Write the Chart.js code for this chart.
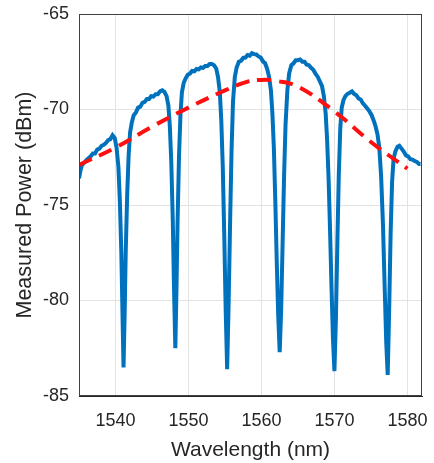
<!DOCTYPE html>
<html>
<head>
<meta charset="utf-8">
<script src="https://cdn.jsdelivr.net/npm/chart.js@4/dist/chart.umd.min.js"></script>
<style>
  html, body { margin: 0; padding: 0; background: #fff; }
  #wrap { width: 434px; height: 463px; }
</style>
</head>
<body>
<div id="wrap"><canvas id="chart" width="434" height="463"></canvas></div>
<script>
// measured spectrum (nm, dBm)
const wavelengthNm = [
  1535.0, 1535.2, 1535.4, 1535.7, 1536.0, 1536.3, 1536.6, 1536.9, 1537.2, 1537.5,
  1537.8, 1538.1, 1538.4, 1538.7, 1539.0, 1539.3, 1539.6, 1539.9, 1540.15, 1540.4,
  1540.6, 1540.8, 1540.95, 1541.1, 1541.25, 1541.4, 1541.6, 1541.8, 1542.0, 1542.25,
  1542.5, 1542.8, 1543.1, 1543.4, 1543.7, 1544.0, 1544.3, 1544.6, 1544.9, 1545.2,
  1545.5, 1545.8, 1546.1, 1546.4, 1546.7, 1547.0, 1547.25, 1547.45, 1547.65, 1547.85,
  1548.0, 1548.2, 1548.35, 1548.5, 1548.7, 1548.9, 1549.1, 1549.35, 1549.6, 1549.9,
  1550.2, 1550.5, 1550.8, 1551.1, 1551.4, 1551.7, 1552.0, 1552.3, 1552.6, 1552.9,
  1553.2, 1553.5, 1553.8, 1554.05, 1554.3, 1554.5, 1554.7, 1554.9, 1555.1, 1555.3,
  1555.5, 1555.7, 1555.9, 1556.1, 1556.35, 1556.6, 1556.9, 1557.2, 1557.5, 1557.8,
  1558.1, 1558.4, 1558.7, 1559.0, 1559.3, 1559.6, 1559.9, 1560.2, 1560.5, 1560.8,
  1561.05, 1561.3, 1561.5, 1561.7, 1561.9, 1562.1, 1562.3, 1562.5, 1562.7, 1562.9,
  1563.1, 1563.3, 1563.55, 1563.8, 1564.1, 1564.4, 1564.7, 1565.0, 1565.3, 1565.6,
  1565.9, 1566.2, 1566.5, 1566.8, 1567.1, 1567.4, 1567.7, 1568.0, 1568.3, 1568.55,
  1568.8, 1569.0, 1569.2, 1569.4, 1569.6, 1569.8, 1570.0, 1570.2, 1570.4, 1570.6,
  1570.8, 1571.0, 1571.25, 1571.5, 1571.8, 1572.1, 1572.4, 1572.7, 1573.0, 1573.3,
  1573.6, 1573.9, 1574.2, 1574.5, 1574.8, 1575.1, 1575.4, 1575.65, 1575.9, 1576.15,
  1576.4, 1576.65, 1576.9, 1577.1, 1577.3, 1577.5, 1577.7, 1577.9, 1578.1, 1578.35,
  1578.65, 1578.9, 1579.2, 1579.5, 1579.8, 1580.1, 1580.4, 1580.7, 1581.0, 1581.3,
  1581.6, 1581.8
];
const powerDbm = [
  -73.6, -73.2, -72.9, -72.8, -72.65, -72.55, -72.45, -72.3, -72.3, -72.1,
  -72.05, -71.9, -71.85, -71.75, -71.6, -71.55, -71.35, -71.5, -72.0, -73.0,
  -74.8, -77.5, -80.5, -83.5, -80.8, -77.5, -74.5, -72.4, -71.2, -70.65,
  -70.3, -70.15, -69.9, -69.85, -69.65, -69.6, -69.45, -69.45, -69.3, -69.32,
  -69.2, -69.2, -69.05, -69.0, -69.08, -69.3, -69.8, -70.9, -72.8, -75.8,
  -79.0, -82.5, -79.5, -76.0, -72.5, -70.3, -69.1, -68.6, -68.38, -68.18,
  -68.12, -67.98, -68.0, -67.88, -67.9, -67.8, -67.82, -67.72, -67.72, -67.62,
  -67.62, -67.68, -67.85, -68.3, -69.1, -70.6, -73.0, -76.5, -80.5, -83.6,
  -80.2, -76.0, -72.2, -69.6, -68.3, -67.8, -67.5, -67.45, -67.3, -67.28,
  -67.15, -67.18, -67.05, -67.1, -67.12, -67.22, -67.28, -67.48, -67.58, -67.9,
  -68.3, -69.0, -70.2, -72.0, -74.8, -78.0, -80.8, -82.7, -80.5, -77.0,
  -73.5, -70.8, -69.0, -68.1, -67.68, -67.58, -67.42, -67.42, -67.38, -67.5,
  -67.5, -67.65, -67.68, -67.82, -67.92, -68.12, -68.28, -68.52, -68.78, -69.3,
  -70.2, -71.6, -73.6, -76.3, -79.3, -82.0, -83.7, -81.0, -77.0, -73.4,
  -71.0, -69.9, -69.5, -69.3, -69.18, -69.12, -69.05, -69.18, -69.25, -69.42,
  -69.48, -69.68, -69.8, -69.95, -70.1, -70.3, -70.6, -70.9, -71.3, -72.0,
  -73.5, -76.0, -79.5, -82.2, -83.9, -80.5, -76.5, -73.8, -72.6, -72.2,
  -71.95, -71.9, -72.05, -72.2, -72.4, -72.45, -72.6, -72.62, -72.7, -72.75,
  -72.85, -72.85
];

// dashed envelope
const envelopeNm = [1535, 1540, 1545, 1550, 1555, 1558, 1560, 1562, 1565, 1570, 1575, 1580];
const envelopeDbm = [-72.9, -72.0, -70.9, -69.9, -69.0, -68.55, -68.45, -68.5, -68.8, -70.1, -71.7, -73.1];

const xTicks = [1540, 1550, 1560, 1570, 1580];
const yTicks = [-85, -80, -75, -70, -65];

const spectrum = wavelengthNm.map((x, i) => ({ x: x, y: powerDbm[i] }));
const envelope = envelopeNm.map((x, i) => ({ x: x, y: envelopeDbm[i] }));

const axisColor = '#262626';
const font = 'Liberation Sans, Arial, Helvetica, sans-serif';

const boxPlugin = {
  id: 'box',
  afterDraw(chart) {
    const a = chart.chartArea;
    const ctx = chart.ctx;
    ctx.save();
    ctx.strokeStyle = '#404040';
    ctx.lineWidth = 1;
    ctx.strokeRect(a.left + 0.5, a.top + 0.5, a.right - a.left - 1, a.bottom - a.top - 1);
    ctx.restore();
  }
};

new Chart(document.getElementById('chart'), {
  type: 'line',
  data: {
    datasets: [
      {
        label: 'envelope',
        data: envelope,
        borderColor: '#ff1010',
        borderWidth: 4,
        borderDash: [14, 8],
        pointRadius: 0,
        tension: 0.4,
        fill: false,
        order: 0
      },
      {
        label: 'spectrum',
        data: spectrum,
        borderColor: '#0072bd',
        borderWidth: 4,
        pointRadius: 0,
        tension: 0,
        fill: false,
        order: 1
      }
    ]
  },
  options: {
    responsive: false,
    animation: false,
    layout: { padding: { top: 14, right: 12, left: 12, bottom: 0 } },
    plugins: { legend: { display: false }, tooltip: { enabled: false } },
    scales: {
      x: {
        type: 'linear',
        min: 1535,
        max: 1582,
        afterBuildTicks: s => { s.ticks = xTicks.map(v => ({ value: v })); },
        afterFit: s => { s.height = 67; s.paddingLeft = 0; s.paddingRight = 0; },
        grid: { color: '#e3e3e3', drawTicks: false },
        border: { color: axisColor },
        ticks: { color: axisColor, font: { family: font, size: 18 }, padding: 14, maxRotation: 0, callback: v => String(v) },
        title: { display: true, text: 'Wavelength (nm)', color: axisColor, font: { family: font, size: 21 }, padding: { top: 0, bottom: 0 } }
      },
      y: {
        min: -85,
        max: -65,
        afterBuildTicks: s => { s.ticks = yTicks.map(v => ({ value: v })); },
        afterFit: s => { s.width = 67; s.paddingTop = 0; s.paddingBottom = 0; },
        grid: { color: '#e3e3e3', drawTicks: false },
        border: { color: axisColor },
        ticks: { color: axisColor, font: { family: font, size: 18 }, padding: 10, callback: v => String(v) },
        title: { display: true, text: 'Measured Power (dBm)', color: axisColor, font: { family: font, size: 21.5 }, padding: { top: 0, bottom: 2 } }
      }
    }
  },
  plugins: [boxPlugin]
});
</script>
</body>
</html>
